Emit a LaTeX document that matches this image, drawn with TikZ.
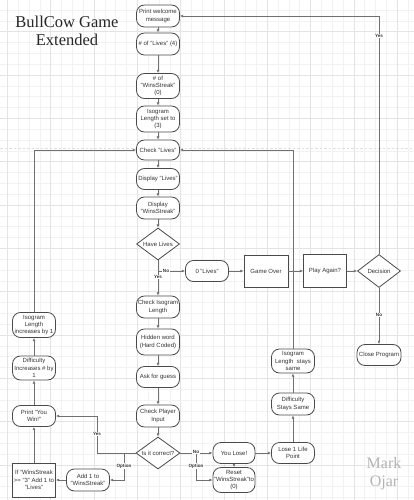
\documentclass[tikz,border=0pt]{standalone}
\usepackage{fontspec}
\setmainfont{Liberation Sans}
\newfontfamily\titleserif{Liberation Serif}
\usetikzlibrary{shapes.geometric,arrows.meta}
\definecolor{boxline}{HTML}{4A4A4A}
\definecolor{txt}{HTML}{333333}
\definecolor{conn}{HTML}{707070}
\definecolor{gridmin}{HTML}{F2F2F2}
\definecolor{gridmaj}{HTML}{E4E4E4}
\definecolor{markgray}{HTML}{B4B4B4}
\tikzset{
  nodefont/.style={font=\fontsize{6}{7.2}\selectfont, text=txt},
  rbox/.style={nodefont, draw=boxline, line width=0.8pt, rounded corners=8pt, fill=white,
    minimum width=43pt, minimum height=22pt, inner sep=1pt, align=center},
  sbox/.style={nodefont, draw=boxline, line width=0.8pt, fill=white,
    minimum width=44pt, minimum height=32pt, inner sep=1pt, align=center},
  dbox/.style={nodefont, draw=boxline, line width=0.8pt, diamond, shape aspect=1.4, fill=white,
    minimum width=43pt, minimum height=32pt, inner sep=0pt, align=center},
  arr/.style={draw=conn, line width=0.6pt, -{Latex[length=3.2pt,width=2.8pt]}},
  plain/.style={draw=conn, line width=0.6pt},
  lbl/.style={font=\fontsize{4.6}{5}\selectfont\bfseries, text=txt, fill=white, inner sep=0.6pt},
}
\begin{document}
\begin{tikzpicture}[x=1pt,y=-1pt]
\useasboundingbox (0,0) rectangle (414,500);
\fill[white] (0,0) rectangle (414,500);
% grid
\begin{scope}
\clip (0,0) rectangle (414,500);
\foreach \i in {0,...,39} { \draw[gridmin, line width=0.4pt] ({-3.63+10.833*\i},0) -- ({-3.63+10.833*\i},500); }
\foreach \i in {0,...,46} { \draw[gridmin, line width=0.4pt] (0,{-0.8+10.833*\i}) -- (414,{-0.8+10.833*\i}); }
\foreach \i in {0,...,9} { \draw[gridmaj, line width=0.5pt] ({7.2+43.33*\i},0) -- ({7.2+43.33*\i},500); }
\foreach \i in {0,...,11} { \draw[gridmaj, line width=0.5pt] (0,{31.7+43.33*\i}) -- (414,{31.7+43.33*\i}); }
\draw[gridmaj!120, line width=0.9pt, dash pattern=on 2.5pt off 2pt] (0,148) -- (414,148);
\end{scope}

% title and signature
\node[font=\titleserif\fontsize{16.5}{18}\selectfont, text=black!85, align=center] (title) at (67,31) {BullCow Game\\Extended};
\node[font=\titleserif\fontsize{16}{18}\selectfont, text=markgray, align=center] (mark) at (384,474) {Mark\\Ojar};

% main column
\node[rbox] (welcome) at (158,16) {Print welcome\\message};
\node[rbox] (lives4) at (158,44) {\# of "Lives" (4)};
\node[rbox, minimum height=25pt] (wins0) at (158,86) {\# of\\"WinsStreak"\\(0)};
\node[rbox, minimum height=26pt] (iso3) at (158,119) {Isogram\\Length set to\\(3)};
\node[rbox, minimum height=20pt] (checkL) at (158,150) {Check "Lives"};
\node[rbox, minimum height=21pt] (dispL) at (158,179) {Display "Lives"};
\node[rbox, minimum height=22pt] (dispW) at (158,208) {Display\\"WinsStreak"};
\node[dbox] (haveL) at (158,244) {Have Lives};
\node[rbox, minimum height=22pt] (checkIso) at (158,307) {Check Isogram\\Length};
\node[rbox, minimum height=26pt] (hidden) at (158,342) {Hidden word\\(Hard Coded)};
\node[rbox, minimum height=21pt] (ask) at (158,377) {Ask for guess};
\node[rbox, minimum height=22pt] (checkPI) at (158,416) {Check Player\\Input};
\node[dbox, minimum width=44pt] (correct) at (158,453) {Is it correct?};

% game over row
\node[rbox, minimum height=21pt] (zeroL) at (207,271) {0 "Lives"};
\node[sbox] (gameover) at (266,271) {Game Over};
\node[sbox, minimum width=43pt, minimum height=33pt] (again) at (325,271) {Play Again?};
\node[dbox, minimum height=33pt] (decision) at (379,271) {Decision};
\node[rbox, minimum width=44pt, minimum height=21pt] (close) at (379,355) {Close Program};

% lose branch
\node[rbox, minimum width=42pt, minimum height=21pt] (lose) at (234,453) {You Lose!};
\node[rbox, minimum width=42pt, minimum height=25pt] (reset) at (234,480) {Reset\\"WinsStreak"to\\(0)};
\node[rbox, minimum height=21pt] (life) at (293,453) {Lose 1 Life\\Point};
\node[rbox, minimum height=22pt] (diffSame) at (293,404) {Difficulty\\Stays Same};
\node[rbox, minimum height=24pt] (isoSame) at (293,361) {Isogram\\Length\ \ stays\\same};

% win branch
\node[rbox, minimum height=21pt] (win) at (34,416) {Print "You\\Win!"};
\node[rbox, minimum height=24pt] (diffInc) at (34,368) {Difficulty\\Increases \# by\\1};
\node[rbox, minimum height=25pt] (isoInc) at (34,325) {Isogram\\Length\\increases by 1};
\node[rbox, minimum height=22pt] (add1) at (88,480) {Add 1 to\\"WinsStreak"};
\node[sbox, minimum width=43pt, minimum height=34pt] (ifbox) at (34,480) {If "WinsStreak\\>= "3" Add 1 to\\"Lives"};

% junction coordinates
\coordinate (jNo1) at (158,271);
\coordinate (jNo2) at (196,453);
\coordinate (jYes) at (97,453);
\coordinate (jOpt) at (124,453);

% connectors main column
\draw[arr] (welcome) -- (lives4);
\draw[arr] (lives4) -- (wins0);
\draw[arr] (wins0) -- (iso3);
\draw[arr] (iso3) -- (checkL);
\draw[arr] (checkL) -- (dispL);
\draw[arr] (dispL) -- (dispW);
\draw[arr] (dispW) -- (haveL);
\draw[arr] (haveL.south) -- (checkIso.north);
\draw[arr] (jNo1) -- (zeroL.west);
\node[lbl] (lNo1) at (166,271) {No};
\node[lbl] (lYes1) at (158,277) {Yes};
\draw[arr] (zeroL) -- (gameover);
\draw[arr] (gameover) -- (again);
\draw[arr] (again) -- (decision);
\draw[arr] (decision.north) |- (welcome.east);
\node[lbl] (lYes2) at (379,36) {Yes};
\draw[arr] (decision.south) -- (close.north);
\node[lbl] (lNo2) at (379,315) {No};

\draw[arr] (checkIso) -- (hidden);
\draw[arr] (hidden) -- (ask);
\draw[arr] (ask) -- (checkPI);
\draw[arr] (checkPI) -- (correct);

% lose side
\draw[arr] (correct.east) -- (lose.west);
\draw[arr] (jNo2) |- (reset.west);
\node[lbl] (lNo3) at (196,452) {No};
\node[lbl] (lOpt2) at (196,466) {Option};
\draw[arr] (lose.south) -- (reset.north);
\draw[arr] (lose) -- (life);
\draw[arr] (life) -- (diffSame);
\draw[arr] (diffSame) -- (isoSame);
\draw[arr] (isoSame.north) |- (checkL.east);

% win side
\draw[arr] (correct.west) -- (jYes) |- (win.east);
\node[lbl] (lYes3) at (97,434) {Yes};
\draw[arr] (jOpt) |- (add1.east);
\node[lbl] (lOpt1) at (124,466) {Option};
\draw[arr] (add1) -- (ifbox);
\draw[arr] (ifbox) -- (win);
\draw[arr] (win) -- (diffInc);
\draw[arr] (diffInc) -- (isoInc);
\draw[arr] (isoInc.north) |- (checkL.west);
\end{tikzpicture}
\end{document}
